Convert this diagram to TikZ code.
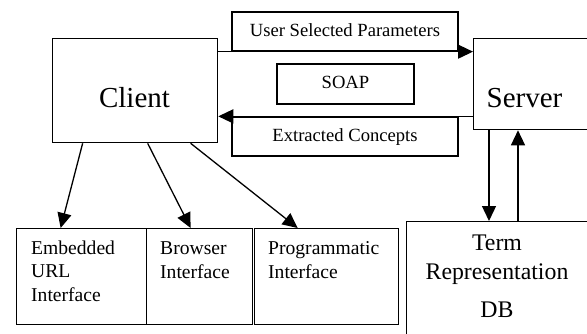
\documentclass[tikz,border=0pt]{standalone}
\usepackage{fontspec}
\setmainfont{Liberation Serif}
\usetikzlibrary{arrows.meta}

\begin{document}
\begin{tikzpicture}[x=1pt, y=-1pt,
		myline/.style={draw=black, line width=1.3pt},
		box/.style={myline, anchor=north west, inner sep=0pt},
		msgbox/.style={myline, minimum width=226pt, minimum height=39pt, inner sep=0pt, text height=13pt, text depth=4pt, font=\fontsize{18.6}{22}\selectfont},
		bigtext/.style={anchor=base, inner sep=0pt, font=\fontsize{29}{34}\selectfont},
		itext/.style={anchor=base west, align=left, inner sep=0pt, font=\fontsize{19.6}{23.5}\selectfont},
		>={Triangle[length=15pt, width=14pt]}]
		
		\useasboundingbox (0,0) rectangle (587,333);
		\clip (0,0) rectangle (587,333);
		
		\node[box, minimum width=165pt, minimum height=104pt] at (52,38)  (client) {};
		\node[box, minimum width=140pt, minimum height=91pt]  at (473,38) (server) {};
		\node[box, minimum width=200pt, minimum height=130pt] at (406,221) (term) {};
		
		\node[bigtext] at (134.5,107) (clienttext) {Client};
		\node[bigtext] at (524.5,107) (servertext) {Server};
		
		\node[msgbox] at (345,31.5) (params) {User Selected Parameters};
		\node[msgbox, minimum width=137pt, minimum height=40pt] at (345.5,84) (soap) {SOAP};
		\node[msgbox] at (345,136.5) (concepts) {Extracted Concepts};
		
		\node[box, minimum width=130pt, minimum height=96pt] at (16,228)  (embedded) {};
		\node[box, minimum width=106pt, minimum height=96pt] at (146,228) (browser) {};
		\node[box, minimum width=144pt, minimum height=96pt] at (254,228) (program) {};
		
		% base of a multi-line node is its last line
		\node[itext] at (31,301)  (embeddedtext) {Embedded\\URL\\Interface};
		\node[itext] at (160,278) (browsertext) {Browser\\Interface};
		\node[itext] at (268,278) (programtext) {Programmatic\\Interface};
		
		\node[anchor=base, align=center, inner sep=0pt, font=\fontsize{23.8}{29}\selectfont] at (497,317) (termtext) {Term\\Representation\\[9pt]DB};
		
		\draw[myline, ->] (params.south -| client.east) -- (params.south -| server.west);
		\draw[myline, ->] (concepts.north -| server.west) -- (concepts.north -| client.east);
		
		\draw[myline, ->] ([xshift=-52.5pt]client.south) -- ([xshift=-21pt]embedded.north);
		\draw[myline, ->] ([xshift=12.5pt]client.south) -- ([xshift=-9pt]browser.north);
		\draw[myline, ->] ([xshift=55.5pt]client.south) -- ([xshift=-29pt]program.north);
		
		\coordinate (down) at ([xshift=16pt]server.south west);
		\coordinate (up) at ([xshift=45pt]server.south west);
		\draw[myline, ->] (down) -- (down |- term.north);
		\draw[myline, ->] (up |- term.north) -- (up);
	\end{tikzpicture}
\end{document}
